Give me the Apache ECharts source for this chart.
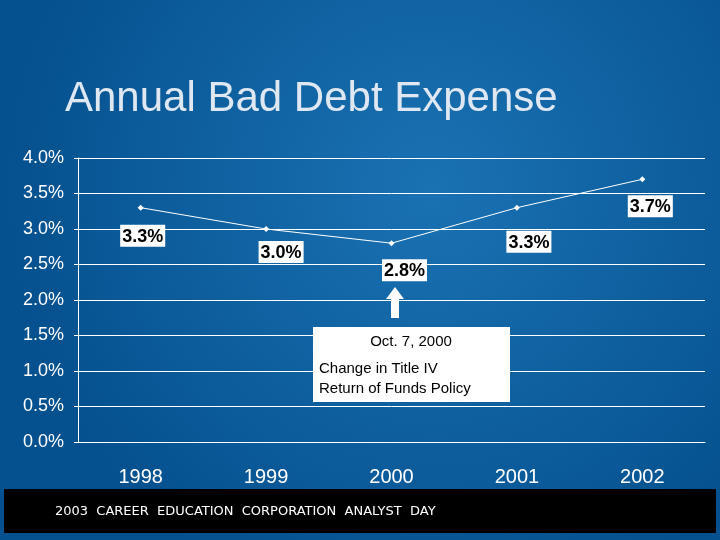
<!DOCTYPE html>
<html><head><meta charset="utf-8">
<script src="https://cdn.jsdelivr.net/npm/echarts@6/dist/echarts.min.js"></script>
<style>html,body{margin:0;padding:0;background:#0a5d9e}#c{width:720px;height:540px}</style>
</head><body><div id="c"></div>
<script>
const years = ['1998', '1999', '2000', '2001', '2002'];
const expense = [3.3, 3.0, 2.8, 3.3, 3.7];
const labelOffsets = [[2, 9], [15, 4], [13, 8], [12, 15], [8, 8]];

const chart = echarts.init(document.getElementById('c'));
chart.setOption({
  backgroundColor: {
    type: 'radial', x: 0.6, y: 0.35, r: 0.8,
    colorStops: [{offset: 0, color: '#1a72b3'}, {offset: 1, color: '#05508e'}]
  },
  title: {
    text: 'Annual Bad Debt Expense', left: 60, top: 73,
    textStyle: {color: '#dfe8f2', fontSize: 42, fontWeight: 'normal', fontFamily: 'Liberation Sans'}
  },
  grid: {left: 78, right: 15, top: 158, bottom: 98},
  xAxis: {
    type: 'category', data: years,
    axisLine: {lineStyle: {color: '#ffffff'}},
    axisTick: {show: false},
    axisLabel: {color: '#ffffff', fontSize: 20, margin: 25, fontFamily: 'Liberation Sans'}
  },
  yAxis: {
    type: 'value', min: 0, max: 4, interval: 0.5,
    axisLine: {show: true, lineStyle: {color: '#ffffff'}},
    axisTick: {show: true, length: 4, lineStyle: {color: '#ffffff'}},
    splitLine: {lineStyle: {color: '#ffffff', width: 1}},
    axisLabel: {color: '#ffffff', fontSize: 18, margin: 14, fontFamily: 'Liberation Sans',
      formatter: v => v.toFixed(1) + '%'}
  },
  series: [{
    type: 'line',
    data: expense.map((v, i) => ({
      value: v,
      label: {offset: labelOffsets[i]}
    })),
    symbol: 'diamond', symbolSize: 6,
    itemStyle: {color: '#ffffff'},
    lineStyle: {color: '#ffffff', width: 1},
    label: {
      show: true, position: 'bottom',
      formatter: p => p.value.toFixed(1) + '%',
      backgroundColor: '#ffffff', color: '#000000',
      fontSize: 18, fontWeight: 'bold', fontFamily: 'Liberation Sans',
      padding: [3, 2, 1, 2]
    }
  }],
  graphic: [
    {type: 'rect', z: 100, shape: {x: 313, y: 327, width: 197, height: 75}, style: {fill: '#ffffff'}},
    {type: 'text', z: 101, style: {x: 411, y: 342, text: 'Oct. 7, 2000', textAlign: 'center', textVerticalAlign: 'middle',
      fill: '#000', font: '15px "Liberation Sans"'}},
    {type: 'text', z: 101, style: {x: 319, y: 369, text: 'Change in Title IV', textVerticalAlign: 'middle',
      fill: '#000', font: '15px "Liberation Sans"'}},
    {type: 'text', z: 101, style: {x: 319, y: 389, text: 'Return of Funds Policy', textVerticalAlign: 'middle',
      fill: '#000', font: '15px "Liberation Sans"'}},
    {type: 'polygon', z: 100, shape: {points: [[395, 287], [386, 299], [391, 299], [391, 318], [399, 318], [399, 299], [404, 299]]},
      style: {fill: '#ffffff'}},
    {type: 'rect', z: 100, shape: {x: 4, y: 489, width: 712, height: 44}, style: {fill: '#000000'}},
    {type: 'text', z: 101, style: {x: 55, y: 512, text: '2003  CAREER  EDUCATION  CORPORATION  ANALYST  DAY', textVerticalAlign: 'middle',
      fill: '#ffffff', font: '13px "DejaVu Sans"'}}
  ]
});
</script></body></html>
